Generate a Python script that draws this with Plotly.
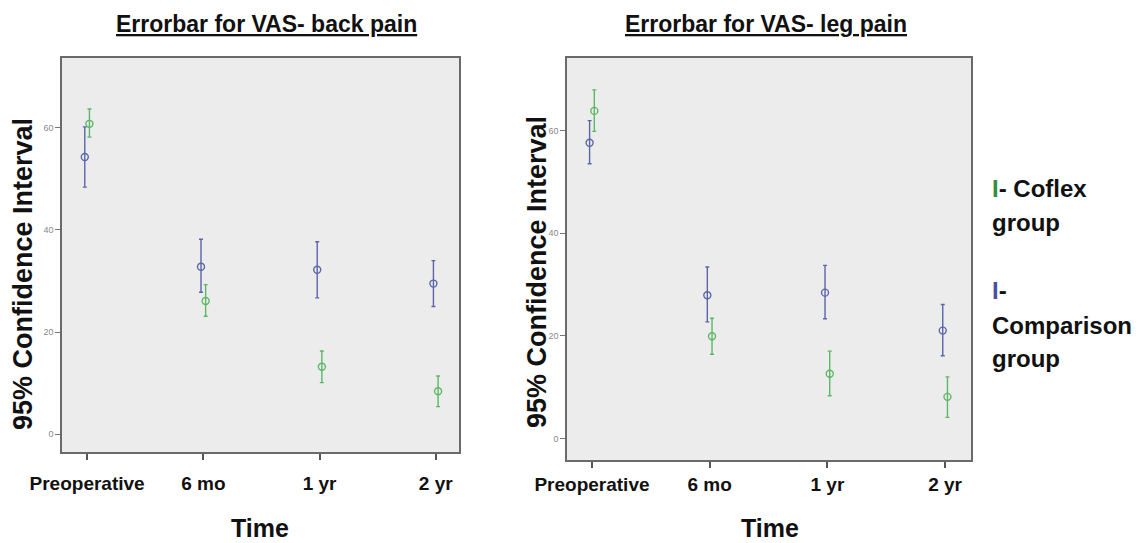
import plotly.graph_objects as go

W, H = 1145, 543

categories = ["Preoperative", "6 mo", "1 yr", "2 yr"]
y_ticks = [0, 20, 40, 60]

# VAS back pain (mean and 95% CI)
back_comp_mean = [54.3, 32.8, 32.2, 29.5]
back_comp_low = [48.4, 27.8, 26.7, 25.0]
back_comp_high = [60.2, 38.2, 37.7, 34.0]
back_coflex_mean = [60.8, 26.1, 13.2, 8.4]
back_coflex_low = [58.2, 23.1, 10.1, 5.4]
back_coflex_high = [63.7, 29.3, 16.3, 11.4]

# VAS leg pain (mean and 95% CI)
leg_comp_mean = [57.6, 27.9, 28.4, 21.0]
leg_comp_low = [53.5, 22.7, 23.3, 16.1]
leg_comp_high = [61.9, 33.4, 33.7, 26.1]
leg_coflex_mean = [63.8, 19.9, 12.6, 8.1]
leg_coflex_low = [59.8, 16.4, 8.3, 4.1]
leg_coflex_high = [67.9, 23.4, 17.0, 12.0]

COMP = "#5b66aa"
COFLEX = "#5cb866"
FONT = "Liberation Sans, Arial, sans-serif"

fig = go.Figure()


def add_series(mean, low, high, color, offset, xa, ya, name):
    xs = [i + offset for i in range(len(categories))]
    fig.add_trace(go.Scatter(
        x=xs, y=mean, mode="markers", name=name, showlegend=False,
        xaxis=xa, yaxis=ya,
        marker=dict(symbol="circle-open", size=7, color=color, line=dict(width=1.4, color=color)),
        error_y=dict(type="data", symmetric=False,
                     array=[h - m for h, m in zip(high, mean)],
                     arrayminus=[m - l for m, l in zip(mean, low)],
                     color=color, thickness=1.4, width=2),
    ))


add_series(back_comp_mean, back_comp_low, back_comp_high, COMP, -0.02, "x", "y", "Comparison group")
add_series(back_coflex_mean, back_coflex_low, back_coflex_high, COFLEX, 0.02, "x", "y", "Coflex group")
add_series(leg_comp_mean, leg_comp_low, leg_comp_high, COMP, -0.02, "x2", "y2", "Comparison group")
add_series(leg_coflex_mean, leg_coflex_low, leg_coflex_high, COFLEX, 0.02, "x2", "y2", "Coflex group")


def px_x(p):
    return p / W


def px_y(p):
    return 1 - p / H


xaxis_common = dict(
    tickvals=[0, 1, 2, 3], ticktext=categories, ticks="outside", ticklen=6, tickwidth=1.5,
    tickcolor="#555", showgrid=False, zeroline=False, showline=True, mirror=True,
    linecolor="#6a6a6a", linewidth=1.6, automargin=False,
    tickfont=dict(family=FONT, size=19, color="#111", weight="bold"),
)
yaxis_common = dict(
    tickvals=y_ticks, ticks="outside", ticklen=5, tickwidth=1, tickcolor="#777",
    showgrid=False, zeroline=False, showline=True, mirror=True,
    linecolor="#6a6a6a", linewidth=1.6, automargin=False,
    tickfont=dict(family=FONT, size=9, color="#888"),
)

fig.update_layout(
    width=W, height=H,
    margin=dict(l=0, r=0, t=0, b=0, autoexpand=False),
    paper_bgcolor="white", plot_bgcolor="#ececec",
    xaxis=dict(domain=[px_x(62), px_x(459)], range=[-0.216, 3.2], anchor="y",
               ticklabelstandoff=7, **xaxis_common),
    yaxis=dict(domain=[px_y(452), px_y(58)], range=[-3.5, 73.7], anchor="x", **yaxis_common),
    xaxis2=dict(domain=[px_x(567), px_x(971)], range=[-0.212, 3.22], anchor="y2",
                ticklabelstandoff=0, **xaxis_common),
    yaxis2=dict(domain=[px_y(460), px_y(58)], range=[-4.2, 74.1], anchor="x2", **yaxis_common),
)

ann = []


def text(x, y, s, size, xanchor="center", angle=0, color="#111"):
    ann.append(dict(x=px_x(x), y=px_y(y), xref="paper", yref="paper", text=s,
                    showarrow=False, xanchor=xanchor, yanchor="middle", textangle=angle,
                    font=dict(family=FONT, size=size, color=color)))


# Titles
text(266, 24, "<b><u>Errorbar for VAS- back pain</u></b>", 23)
text(766, 24, "<b><u>Errorbar for VAS- leg pain</u></b>", 23)
# Axis titles
text(23, 274, "<b>95% Confidence Interval</b>", 27, angle=-90)
text(537, 272, "<b>95% Confidence Interval</b>", 27, angle=-90)
text(260, 528, "<b>Time</b>", 25)
text(770, 528, "<b>Time</b>", 25)
# Legend
text(990, 188, "<b><span style='color:#2f8f45'>I</span>- Coflex</b>", 24, xanchor="left")
text(990, 223, "<b>group</b>", 24, xanchor="left")
text(990, 290, "<b><span style='color:#4a50a0'>I</span>-</b>", 24, xanchor="left")
text(990, 325, "<b>Comparison</b>", 24, xanchor="left")
text(990, 358, "<b>group</b>", 24, xanchor="left")

fig.update_layout(annotations=ann)

fig.write_html("out.html")
